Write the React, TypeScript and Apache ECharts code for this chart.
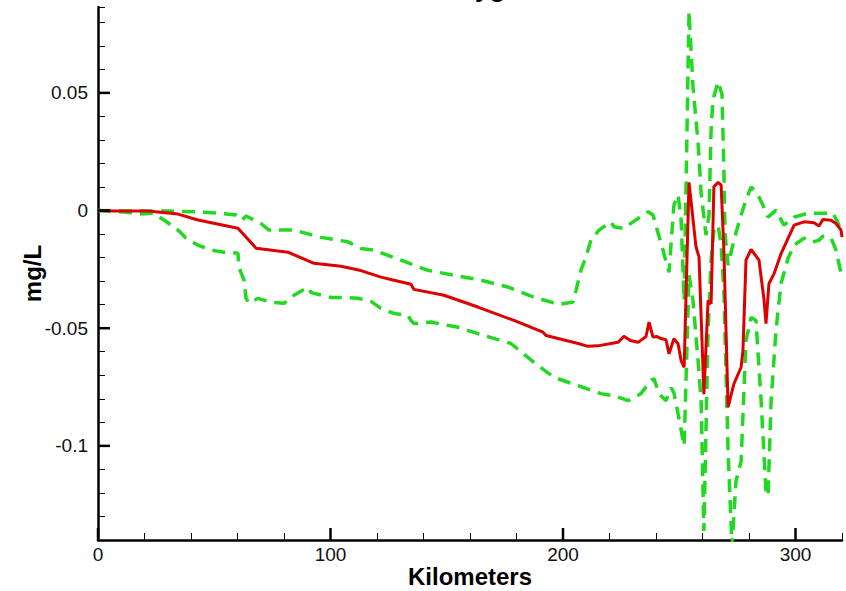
import React, { useEffect, useRef } from "react";
import * as echarts from "echarts";

const titleText = "Dissolved Oxygen";
const xName = "Kilometers";
const yName = "mg/L";

const xMajorTicks = [0, 100, 200, 300];
const yMajorTicks = [-0.1, -0.05, 0, 0.05];

// red solid line: [km, mg/L]
const meanLine: [number, number][] = [
  [0, 0], [6.5, -0.0002], [21.5, -0.0002], [34.4, -0.0015], [43, -0.004], [60.2, -0.0075],
  [68, -0.016], [81.7, -0.0177], [92.9, -0.0224], [104.5, -0.0237], [113.1, -0.0255],
  [121.7, -0.0283], [127.3, -0.0296], [134.6, -0.0313], [135.9, -0.0335], [148.8, -0.036],
  [163.4, -0.041], [178.9, -0.0467], [191.4, -0.0517], [192.7, -0.0531], [206.5, -0.0565],
  [210.8, -0.0577], [215, -0.0575], [220.6, -0.0565], [223.7, -0.056], [226.2, -0.0534],
  [229, -0.0552], [232.3, -0.056], [235.7, -0.0535], [237, -0.0474], [238.7, -0.0538],
  [240.2, -0.0535], [242.2, -0.0544], [244.3, -0.0549], [245.6, -0.0609], [247.7, -0.0545],
  [249.5, -0.0566], [250.8, -0.0638], [252.1, -0.0666], [254.2, 0.012], [257.2, -0.0154],
  [258.5, -0.0197], [260.6, -0.078], [262.4, -0.0382], [263.7, -0.0396], [264.9, 0.0101],
  [266.7, 0.012], [268, 0.0109], [269.2, -0.0168], [271, -0.0835], [273.5, -0.0737],
  [276.6, -0.0666], [277.4, -0.0595], [278.7, -0.0211], [280.9, -0.0165], [284.3, -0.0211],
  [286.5, -0.0382], [287.3, -0.0481], [288.6, -0.031], [290.8, -0.0268], [293.8, -0.0183],
  [299.4, -0.0062], [303.7, -0.0048], [308, -0.0052], [310.1, -0.0066], [311.8, -0.0038],
  [315.3, -0.0041], [317.4, -0.0055], [319.6, -0.0083], [320, -0.0113],
];

// upper green dashed line
const upperLine: [number, number][] = [
  [0, 0], [12, -0.0002], [30.1, -0.0002], [41.3, -0.0005], [52.9, -0.0012], [59.4, -0.0019],
  [61.9, -0.0041], [63.7, -0.0023], [70.1, -0.0055], [73.5, -0.0083], [84.3, -0.0083],
  [95.9, -0.0114], [107.5, -0.0133], [113.1, -0.0161], [118.7, -0.0168], [130.3, -0.0211],
  [141.9, -0.0254], [153.1, -0.0275], [164.7, -0.0296], [176.3, -0.0325], [187.5, -0.0368],
  [198.3, -0.0399], [204.3, -0.0389], [205.6, -0.0339], [207.7, -0.0254], [209.9, -0.0197],
  [212, -0.0126], [215.5, -0.0083], [220.6, -0.0048], [221.9, -0.0069], [226.2, -0.0076],
  [230.1, -0.0048], [236.6, -0.0005], [238.7, -0.0019], [240.9, -0.0096], [243, -0.0168],
  [245.6, -0.0262], [247.7, 0.0023], [249.5, 0.0066], [250.8, -0.004], [252.1, -0.0382],
  [254.2, 0.0847], [255.9, 0.0527], [258.1, 0.0288], [259.4, 0.0075], [261.5, -0.0104],
  [262.8, -0.0019], [263.7, 0.0343], [264.5, 0.0471], [266.7, 0.0548], [268.4, 0.0493],
  [269.2, 0.0173], [269.7, -0.0096], [271, -0.0232], [273.5, -0.0126], [276.6, -0.0019],
  [278.7, 0.0045], [280.9, 0.01], [283.9, 0.0066], [286, 0.0023], [288.2, -0.0028],
  [291.6, 0.0002], [295, -0.0062], [299.4, -0.0028], [305.4, -0.0011], [311, -0.0011],
  [316.1, -0.0011], [318.3, -0.0053], [320, -0.01],
];

// lower green dashed line
const lowerLine: [number, number][] = [
  [0, 0], [11.2, -0.0006], [17.6, -0.0015], [23.7, -0.0011], [28.4, -0.004], [34.4, -0.0083],
  [37.8, -0.0117], [43, -0.0147], [48.6, -0.0168], [54.2, -0.0177], [60.2, -0.0181],
  [60.6, -0.0241], [62.8, -0.0296], [63.7, -0.0373], [64.9, -0.0394], [68.8, -0.0373],
  [74.4, -0.039], [80, -0.0394], [84.3, -0.036], [90.3, -0.0326], [91.6, -0.0348],
  [92.9, -0.0352], [100.2, -0.0369], [105.8, -0.0369], [111.8, -0.0373], [117.4, -0.0386],
  [121.7, -0.0416], [127.3, -0.0437], [133.3, -0.0446], [134.6, -0.0467], [135.9, -0.048],
  [143.2, -0.0474], [154.8, -0.0496], [166, -0.0531], [177.6, -0.0565], [187.5, -0.0645],
  [196.1, -0.0709], [206.5, -0.0744], [216.3, -0.0778], [221.9, -0.0787], [228, -0.0808],
  [233.5, -0.0778], [237.8, -0.0723], [239.1, -0.0714], [241.3, -0.0778], [244.3, -0.0808],
  [246.5, -0.0753], [247.7, -0.0774], [249.5, -0.0864], [252.1, -0.1], [254.2, -0.0275],
  [255.9, -0.0382], [258.1, -0.0638], [259.4, -0.0808], [260.6, -0.1362], [262.4, -0.051],
  [263.7, -0.0211], [264.9, -0.0083], [266.7, -0.0062], [268, -0.0147], [269.2, -0.034],
  [271, -0.1022], [272.7, -0.1428], [274.4, -0.115], [276.6, -0.1066], [278.7, -0.0552],
  [280.9, -0.0454], [283, -0.0467], [285.2, -0.0808], [287.3, -0.1192], [288.2, -0.1213],
  [289.5, -0.0808], [291.6, -0.051], [293.8, -0.0309], [296.8, -0.0203], [299.4, -0.0147],
  [303.7, -0.0117], [307.5, -0.0134], [310.1, -0.0126], [311.8, -0.0109], [315.3, -0.0117],
  [317.4, -0.0168], [320, -0.0284],
];

const X_MIN = 0;
const X_MAX = 320;
const Y_MIN = -0.14;
const Y_MAX = 0.0865;

const FONT = "'Liberation Sans', Arial, Helvetica, sans-serif";

export default function App() {
  const ref = useRef<HTMLDivElement>(null);

  useEffect(() => {
    if (!ref.current) return;
    const chart = echarts.init(ref.current, undefined, { renderer: "svg" });

    const tickData: number[][] = [
      ...yMajorTicks.map((v) => [X_MIN, v, 0]),
      ...xMajorTicks.map((x) => [x, Y_MIN, 1]),
    ];

    chart.setOption({
      animation: false,
      backgroundColor: "#ffffff",
      title: {
        text: titleText,
        left: "center",
        top: -30,
        textStyle: { fontFamily: FONT, fontSize: 26, fontWeight: "bold", color: "#000" },
      },
      grid: {
        left: 98,
        right: 4,
        top: 7,
        bottom: 51,
        containLabel: false,
        outerBoundsMode: "none",
      },
      xAxis: {
        type: "value",
        min: X_MIN,
        max: X_MAX,
        interval: 20,
        name: xName,
        nameLocation: "middle",
        nameGap: 24,
        nameMoveOverlap: false,
        nameTextStyle: {
          fontFamily: FONT,
          fontSize: 24,
          lineHeight: 24,
          fontWeight: "bold",
          color: "#000",
        },
        axisLine: { onZero: false, lineStyle: { color: "#000", width: 2.5 } },
        axisTick: { inside: true, length: 7, lineStyle: { color: "#000", width: 1 } },
        axisLabel: {
          fontFamily: FONT,
          fontSize: 19,
          color: "#111",
          margin: 5,
          formatter: (v: number) => (Math.abs(v % 100) < 1e-9 ? String(v) : ""),
        },
        splitLine: { show: false },
      },
      yAxis: {
        type: "value",
        min: Y_MIN,
        max: Y_MAX,
        interval: 0.01,
        name: yName,
        nameLocation: "middle",
        nameGap: 54,
        nameRotate: 90,
        nameMoveOverlap: false,
        nameTextStyle: { fontFamily: FONT, fontSize: 24, fontWeight: "bold", color: "#000" },
        axisLine: { onZero: false, lineStyle: { color: "#000", width: 2.5 } },
        axisTick: { inside: true, length: 7, lineStyle: { color: "#000", width: 1 } },
        axisLabel: {
          fontFamily: FONT,
          fontSize: 19,
          color: "#111",
          margin: 10,
          formatter: (v: number) => {
            const r = v / 0.05;
            if (Math.abs(r - Math.round(r)) > 1e-6) return "";
            const s = parseFloat(v.toFixed(4));
            return s === 0 ? "0" : String(s);
          },
        },
        splitLine: { show: false },
      },
      series: [
        {
          name: "upper",
          type: "line",
          data: upperLine,
          showSymbol: false,
          symbol: "none",
          lineStyle: { color: "#22d922", width: 3.5, type: [13, 8] },
          z: 2,
        },
        {
          name: "lower",
          type: "line",
          data: lowerLine,
          showSymbol: false,
          symbol: "none",
          lineStyle: { color: "#22d922", width: 3.5, type: [13, 8] },
          z: 2,
        },
        {
          name: "mean",
          type: "line",
          data: meanLine,
          showSymbol: false,
          symbol: "none",
          lineStyle: { color: "#dd0000", width: 3 },
          z: 3,
        },
        {
          name: "majorTicks",
          type: "custom",
          silent: true,
          clip: false,
          z: 4,
          data: tickData,
          renderItem: (params: any, api: any) => {
            const p = api.coord([api.value(0), api.value(1)]);
            const horiz = api.value(2) === 0;
            return {
              type: "line",
              shape: horiz
                ? { x1: p[0], y1: p[1], x2: p[0] + 12, y2: p[1] }
                : { x1: p[0], y1: p[1], x2: p[0], y2: p[1] - 12 },
              style: { stroke: "#000", lineWidth: 2.5 },
            };
          },
        },
      ],
    });

    return () => chart.dispose();
  }, []);

  return (
    <div
      ref={ref}
      style={{ position: "absolute", left: 0, top: 0, width: 846, height: 591 }}
    />
  );
}
